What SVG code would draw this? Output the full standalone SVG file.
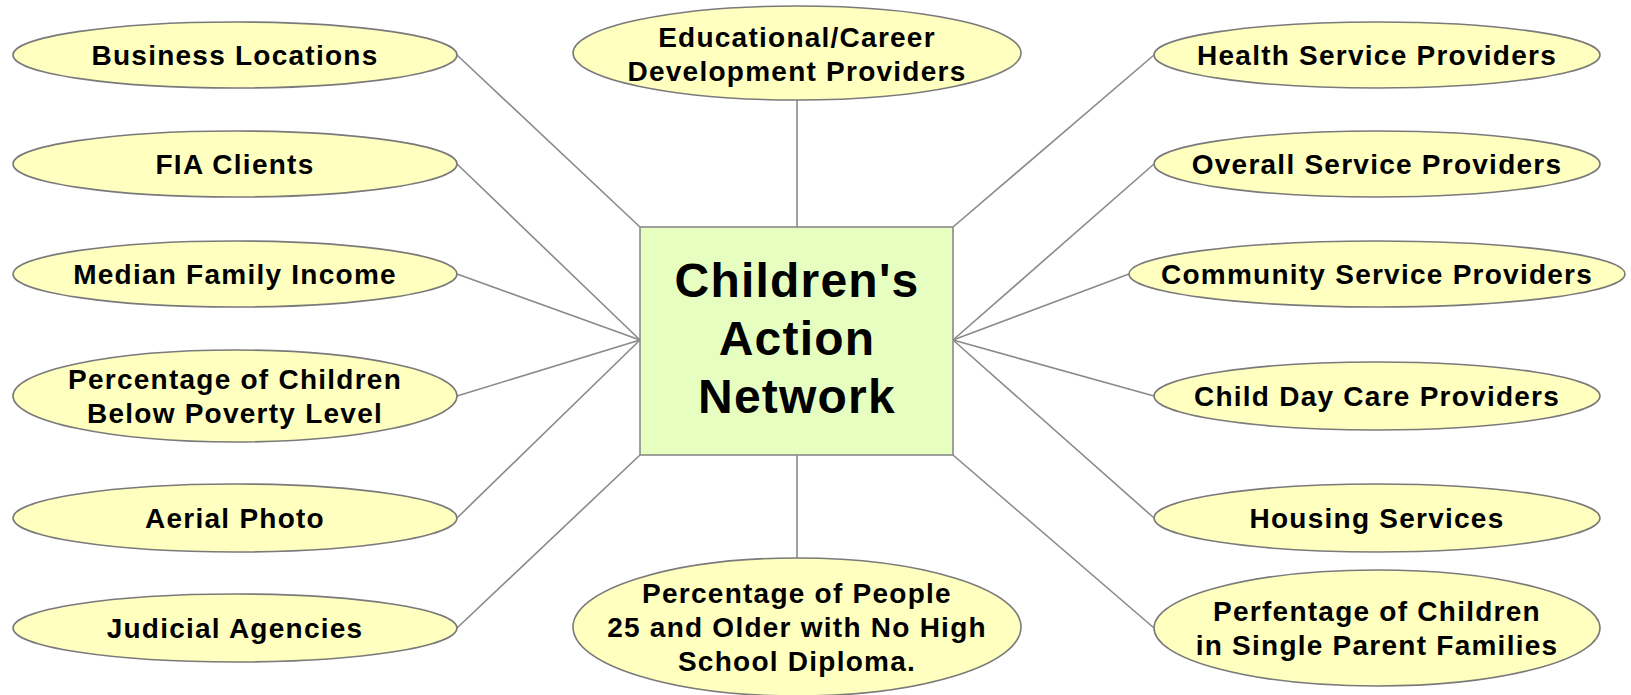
<svg xmlns="http://www.w3.org/2000/svg" width="1631" height="695" viewBox="0 0 1631 695">
  <style>
    .bg { fill: #ffffff; }
    .conn line { stroke: #8a8a8a; stroke-width: 1.6; }
    .leaf ellipse { fill: #ffffc0; stroke: #7a7a7a; stroke-width: 1.6; }
    .hub rect { fill: #e6ffc0; stroke: #8a8a8a; stroke-width: 1.6; }
    text { font-family: "Liberation Sans", Arial, sans-serif; font-weight: bold; fill: #000000; text-anchor: middle; }
    .leaf text { font-size: 28px; letter-spacing: 1.25px; }
    .hub text { font-size: 48px; letter-spacing: 1.2px; }
  </style>
  <rect class="bg" x="0" y="0" width="1631" height="695"/>

  <!-- spokes from the central box out to each topic -->
  <g id="connectors" class="conn">
    <line x1="457" y1="55" x2="640" y2="227"/>
    <line x1="457" y1="164" x2="640" y2="340"/>
    <line x1="457" y1="274" x2="640" y2="340"/>
    <line x1="457" y1="396" x2="640" y2="340"/>
    <line x1="457" y1="518" x2="640" y2="340"/>
    <line x1="457" y1="628" x2="640" y2="455"/>
    <line x1="797" y1="100" x2="797" y2="227"/>
    <line x1="797" y1="455" x2="797" y2="558"/>
    <line x1="1154" y1="55" x2="953" y2="227"/>
    <line x1="1154" y1="164" x2="953" y2="340"/>
    <line x1="1129" y1="274" x2="953" y2="340"/>
    <line x1="1154" y1="396" x2="953" y2="340"/>
    <line x1="1154" y1="518" x2="953" y2="340"/>
    <line x1="1154" y1="628" x2="953" y2="455"/>
  </g>

  <g id="hub" class="hub">
    <rect x="640" y="227" width="313" height="228"/>
    <text x="797" y="297">Children's</text>
    <text x="797" y="355">Action</text>
    <text x="797" y="413">Network</text>
  </g>

  <!-- left column -->
  <g id="business-locations" class="leaf">
    <ellipse cx="235" cy="55" rx="222" ry="33"/>
    <text x="235" y="65">Business Locations</text>
  </g>
  <g id="fia-clients" class="leaf">
    <ellipse cx="235" cy="164" rx="222" ry="33"/>
    <text x="235" y="174">FIA Clients</text>
  </g>
  <g id="median-family-income" class="leaf">
    <ellipse cx="235" cy="274" rx="222" ry="33"/>
    <text x="235" y="284">Median Family Income</text>
  </g>
  <g id="children-below-poverty" class="leaf">
    <ellipse cx="235" cy="396" rx="222" ry="46"/>
    <text x="235" y="389">Percentage of Children</text>
    <text x="235" y="423">Below Poverty Level</text>
  </g>
  <g id="aerial-photo" class="leaf">
    <ellipse cx="235" cy="518" rx="222" ry="34"/>
    <text x="235" y="528">Aerial Photo</text>
  </g>
  <g id="judicial-agencies" class="leaf">
    <ellipse cx="235" cy="628" rx="222" ry="34"/>
    <text x="235" y="638">Judicial Agencies</text>
  </g>

  <!-- centre column -->
  <g id="educational-career" class="leaf">
    <ellipse cx="797" cy="53" rx="224" ry="47"/>
    <text x="797" y="47">Educational/Career</text>
    <text x="797" y="81">Development Providers</text>
  </g>
  <g id="people-no-diploma" class="leaf">
    <ellipse cx="797" cy="627" rx="224" ry="69"/>
    <text x="797" y="603">Percentage of People</text>
    <text x="797" y="637">25 and Older with No High</text>
    <text x="797" y="671">School Diploma.</text>
  </g>

  <!-- right column -->
  <g id="health-service" class="leaf">
    <ellipse cx="1377" cy="55" rx="223" ry="33"/>
    <text x="1377" y="65">Health Service Providers</text>
  </g>
  <g id="overall-service" class="leaf">
    <ellipse cx="1377" cy="164" rx="223" ry="33"/>
    <text x="1377" y="174">Overall Service Providers</text>
  </g>
  <g id="community-service" class="leaf">
    <ellipse cx="1377" cy="274" rx="248" ry="33"/>
    <text x="1377" y="284">Community Service Providers</text>
  </g>
  <g id="child-day-care" class="leaf">
    <ellipse cx="1377" cy="396" rx="223" ry="34"/>
    <text x="1377" y="406">Child Day Care Providers</text>
  </g>
  <g id="housing-services" class="leaf">
    <ellipse cx="1377" cy="518" rx="223" ry="34"/>
    <text x="1377" y="528">Housing Services</text>
  </g>
  <g id="single-parent" class="leaf">
    <ellipse cx="1377" cy="628" rx="223" ry="58"/>
    <text x="1377" y="621">Perfentage of Children</text>
    <text x="1377" y="655">in Single Parent Families</text>
  </g>
</svg>
